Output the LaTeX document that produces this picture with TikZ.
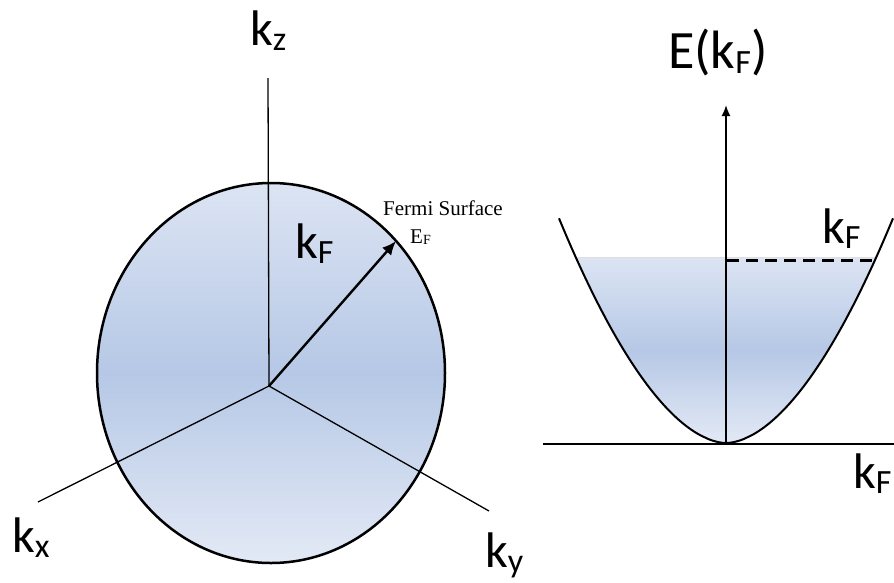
\documentclass[tikz,border=0pt]{standalone}
\usepackage{fontspec}
\setmainfont{Liberation Serif}
\newfontfamily\labfont{Carlito}
\usetikzlibrary{arrows.meta}
\definecolor{fillA}{HTML}{DCE4F3}
\definecolor{fillB}{HTML}{B6C8E6}
\newcommand{\ksub}[1]{k\raisebox{-5pt}{\fontsize{34}{34}\selectfont #1}}
\begin{document}
\begin{tikzpicture}[x=1pt,y=-1pt,
  lbl/.style={font=\labfont\fontsize{50}{50}\selectfont, inner sep=0pt, anchor=base west},
  serif/.style={font=\fontsize{21}{21}\selectfont, inner sep=0pt, anchor=base west},
  axisline/.style={draw=black, line width=1.3pt},
  thick/.style={draw=black, line width=2pt},
  gshade/.style={top color=fillA, bottom color=fillA!80!white, middle color=fillB}]
\useasboundingbox (0,0) rectangle (894,582);
% --- left: Fermi sphere
\coordinate (O) at (269,386);
\coordinate (kzend) at (268,78);
\coordinate (kxend) at (38,502);
\coordinate (kyend) at (489,511);
\coordinate (kFtip) at (396,241);
\fill[gshade] (271,373) ellipse [x radius=174, y radius=190];
\draw[axisline] (O) -- (kzend);
\draw[axisline] (O) -- (kxend);
\draw[axisline] (O) -- (kyend);
\draw[line width=2.5pt] (271,373) ellipse [x radius=174, y radius=190];
\draw[line width=2.4pt, -{Latex[length=14pt,width=12pt]}] (O) -- (kFtip);
\node[lbl] (lkz) at (250,45) {\ksub{z}};
\node[lbl] (lkx) at (12,552) {\ksub{x}};
\node[lbl] (lky) at (485,567) {\ksub{y}};
\node[lbl] (lkF) at (295,258) {\ksub{F}};
\node[serif] (lfs) at (383,215) {Fermi Surface};
\node[serif] (lef) at (410,243) {E\raisebox{-1pt}{\fontsize{14}{14}\selectfont F}};
% --- right: dispersion
\coordinate (V) at (726,443);
\coordinate (Etop) at (726,105);
\coordinate (hl) at (543,444);
\coordinate (hr) at (894,444);
\coordinate (dl) at (727,260);
\coordinate (dr) at (876,260);
\fill[gshade] plot[domain=-150:150, samples=100] ({726+\x},{443-183*(abs(\x)/149)^1.8}) -- cycle;
\draw[thick] (hl) -- (hr);
\draw[thick] plot[domain=-167:167, samples=120] ({726+\x},{443-183*(abs(\x)/149)^1.8});
\draw[line width=1.8pt, -{Latex[length=11pt,width=9pt]}] (V) -- (Etop);
\draw[line width=3pt, dash pattern=on 12pt off 7pt] (dl) -- (dr);
\node[lbl, font=\labfont\fontsize{54}{54}\selectfont] (lE) at (668,68) {E(\ksub{F})};
\node[lbl] (lkF2) at (822,243) {\ksub{F}};
\node[lbl] (lkF3) at (853,488) {\ksub{F}};
\end{tikzpicture}
\end{document}
